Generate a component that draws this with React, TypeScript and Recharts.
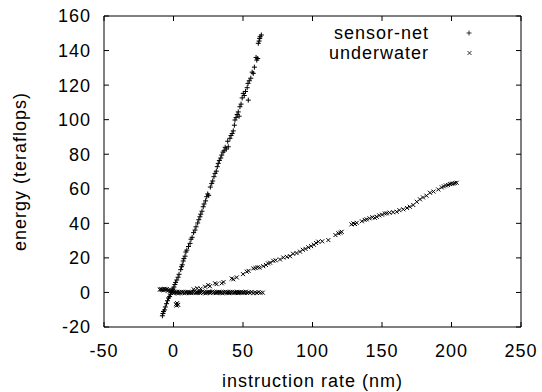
import React from "react";
import {
  ScatterChart,
  Scatter,
  XAxis,
  YAxis,
  Label,
  Legend,
} from "recharts";

const xTicks = [-50, 0, 50, 100, 150, 200, 250];
const yTicks = [-20, 0, 20, 40, 60, 80, 100, 120, 140, 160];

// sensor-net: steep cloud, [x, y]
const sensorNet = [
  [-8.0, -13.5], [-7.6, -12.2], [-7.2, -11.0], [-6.4, -10.1], [-5.9, -8.4],
  [-5.0, -6.5], [-4.3, -4.8], [-3.6, -3.2], [-2.8, -2.4], [-2.2, -1.0],
  [-1.5, 0.2], [-1.0, 1.3], [-0.4, 2.0], [0.3, 3.1], [1.0, 4.6],
  [1.5, 5.8], [2.4, 7.2], [3.3, 8.8], [4.0, 10.5], [5.2, 13.2],
  [5.8, 14.9], [6.3, 16.0], [7.0, 18.2], [7.5, 19.6], [8.3, 21.0],
  [8.9, 23.4], [9.6, 24.5], [10.8, 26.6], [11.9, 28.4], [12.6, 30.8],
  [13.4, 31.9], [14.5, 34.6], [15.5, 36.1], [16.2, 38.0], [17.4, 40.2],
  [18.2, 42.1], [19.0, 43.8], [19.6, 45.3], [20.5, 47.0], [21.4, 49.6],
  [22.0, 51.2], [23.1, 53.0], [23.9, 55.4], [24.6, 57.0], [25.3, 56.2],
  [26.5, 61.0], [27.5, 63.1], [28.2, 64.5], [29.1, 67.0], [29.9, 68.9],
  [30.8, 70.2], [31.5, 72.8], [32.2, 74.7], [33.0, 76.4], [34.0, 77.8],
  [34.7, 79.5], [35.6, 81.2], [36.4, 82.0], [37.2, 84.0], [38.0, 83.0],
  [39.4, 84.3], [39.0, 87.5], [40.6, 89.2], [41.4, 90.8], [42.2, 92.0],
  [43.0, 93.5], [43.8, 96.8], [44.2, 99.8], [45.0, 101.2], [45.8, 103.0],
  [46.6, 104.5], [47.2, 102.0], [47.8, 107.5], [48.6, 109.0], [49.4, 112.6],
  [50.2, 115.2], [50.9, 114.0], [51.8, 116.3], [53.0, 118.5], [53.8, 111.3],
  [53.6, 121.0], [54.5, 122.5], [55.6, 124.0], [57.4, 126.8], [56.6, 127.5],
  [58.2, 130.4], [59.9, 134.5], [60.6, 135.4], [59.4, 136.0], [61.0, 144.2],
  [61.6, 145.5], [62.3, 148.0], [63.2, 149.0], [62.0, 147.0],
];

// underwater: flat band near zero
const underwaterBand = [
  [-9.8, 1.6], [-9.2, 2.0], [-8.5, 1.4], [-7.8, 1.9], [-7.0, 1.2], [-6.4, 2.1],
  [-5.6, 1.5], [-4.8, 2.0], [-4.0, 1.0], [-3.3, 1.6], [-2.5, 0.6], [-1.8, 1.2],
  [-1.0, 0.0], [-0.4, 0.8], [0.3, -0.4], [1.0, 0.5], [1.8, -0.2], [2.6, 0.3],
  [3.3, -0.6], [4.1, 0.2], [4.9, -0.3], [5.7, 0.4], [6.4, -0.1], [7.2, 0.3],
  [8.0, -0.5], [8.8, 0.2], [9.6, -0.2], [10.4, 0.4], [11.2, -0.3], [12.0, 0.1],
  [12.8, -0.4], [13.6, 0.3], [14.4, -0.1], [15.2, 0.5], [16.0, -0.3], [16.8, 0.2],
  [17.6, -0.2], [18.4, 0.4], [19.2, -0.4], [20.0, 0.1], [20.8, 0.6], [21.6, -0.2],
  [22.4, 0.3], [23.2, -0.5], [24.0, 0.2], [24.8, -0.1], [25.6, 0.4], [26.4, -0.3],
  [27.2, 0.1], [28.0, 0.5], [28.8, -0.2], [29.6, 0.3], [30.4, -0.4], [31.2, 0.2],
  [32.0, -0.1], [32.8, 0.4], [33.6, -0.3], [34.4, 0.1], [35.2, -0.5], [36.0, 0.3],
  [36.8, -0.1], [37.6, 0.4], [38.4, -0.2], [39.2, 0.2], [40.0, -0.4], [40.8, 0.3],
  [41.6, -0.1], [42.4, 0.4], [43.2, -0.3], [44.0, 0.1], [44.8, -0.2], [45.6, 0.3],
  [46.4, -0.4], [47.2, 0.2], [48.0, -0.1], [48.8, 0.3], [49.6, -0.3], [50.4, 0.1],
  [51.2, -0.2], [52.0, 0.4], [53.0, -0.3], [54.0, 0.1], [55.0, -0.2], [56.2, 0.3],
  [57.4, -0.4], [58.6, 0.0], [60.0, -0.3], [61.2, 0.2], [62.6, -0.2], [64.2, -0.1],
  [1.8, -6.8], [2.6, -6.2], [3.4, -7.2], [2.2, -7.6],
];

// underwater: rising arm
const underwaterRise = [
  [14.5, 1.8], [17.0, 2.4], [19.5, 2.2], [22.7, 3.3], [25.0, 4.3], [26.2, 3.6],
  [29.9, 5.3], [31.0, 4.8], [34.7, 5.3], [36.0, 6.0], [41.9, 8.1], [43.0, 7.6],
  [45.5, 8.7], [50.0, 10.6], [52.7, 12.0], [54.0, 12.5], [57.4, 13.9], [59.0, 14.1],
  [60.5, 14.6], [62.0, 14.4], [64.6, 15.2], [66.5, 15.9], [68.0, 16.8], [69.5, 17.2],
  [71.8, 18.3], [73.5, 18.6], [76.6, 19.1], [79.0, 20.2], [81.5, 20.6], [83.8, 21.0],
  [86.0, 22.4], [88.5, 22.8], [91.0, 23.6], [93.0, 24.7], [95.0, 25.2], [97.0, 26.1],
  [99.0, 26.8], [101.0, 27.6], [102.6, 28.6], [104.2, 29.4], [107.0, 29.6], [111.4, 30.3],
  [116.5, 33.2], [118.6, 34.2], [120.0, 34.6], [121.0, 35.1], [128.0, 39.4], [129.4, 40.0],
  [130.6, 39.6], [131.8, 40.3], [135.5, 41.2], [137.5, 42.0], [139.0, 42.3], [141.0, 42.9],
  [143.0, 43.5], [144.8, 43.2], [146.2, 43.8], [148.0, 44.6], [150.0, 45.0], [152.0, 45.7],
  [153.4, 45.8], [155.5, 46.2], [158.0, 46.4], [160.6, 46.7], [162.5, 47.6], [165.3, 48.1],
  [168.0, 48.9], [170.0, 49.6], [172.5, 50.6], [175.0, 52.5], [177.3, 53.9], [179.5, 55.0],
  [182.0, 56.0], [184.5, 57.7], [187.0, 58.4], [190.5, 59.6], [193.0, 60.8], [194.5, 61.4],
  [196.0, 61.9], [197.5, 62.2], [198.9, 62.7], [200.0, 62.9], [201.2, 63.0], [202.4, 63.3],
  [203.7, 63.5],
];

const toPoints = (arr: number[][]) => arr.map(([x, y]) => ({ x, y }));
const sensorData = toPoints(sensorNet);
const underwaterData = toPoints([...underwaterBand, ...underwaterRise]);

const font = "'Liberation Sans', Arial, sans-serif";
const ink = "#000";

const Plus = (props: any) => {
  const { cx, cy } = props;
  if (cx == null || cy == null) return null;
  const r = 2.5;
  return (
    <path
      d={`M${cx - r},${cy}H${cx + r}M${cx},${cy - r}V${cy + r}`}
      stroke={ink}
      strokeWidth={1}
      fill="none"
    />
  );
};

const Cross = (props: any) => {
  const { cx, cy } = props;
  if (cx == null || cy == null) return null;
  const r = 2;
  return (
    <path
      d={`M${cx - r},${cy - r}L${cx + r},${cy + r}M${cx - r},${cy + r}L${cx + r},${cy - r}`}
      stroke={ink}
      strokeWidth={1}
      fill="none"
    />
  );
};

const renderLegend = (props: any) => {
  const items = props.payload || [];
  return (
    <svg width={542} height={392} style={{ pointerEvents: "none" }}>
      {items.map((it: any, i: number) => {
        const y = 33 + i * 20;
        return (
          <g key={it.value}>
            <text
              x={429}
              y={y + 6}
              textAnchor="end"
              fontFamily={font}
              fontSize={18}
              letterSpacing={1}
              fill={ink}
            >
              {it.value}
            </text>
            {i === 0 ? (
              <path
                d={`M${466.5},${y}H${471.5}M${469},${y - 2.5}V${y + 2.5}`}
                stroke={ink}
                strokeWidth={0.8}
                fill="none"
              />
            ) : (
              <path
                d={`M${467.5},${y - 2}L${471.5},${y + 2}M${467.5},${y + 2}L${471.5},${y - 2}`}
                stroke={ink}
                strokeWidth={0.8}
                fill="none"
              />
            )}
          </g>
        );
      })}
    </svg>
  );
};

const XTitle = (props: any) => {
  const vb = props.viewBox;
  return (
    <text
      x={vb.x + vb.width / 2}
      y={vb.y + vb.height - 5}
      textAnchor="middle"
      fontFamily={font}
      fontSize={18}
      letterSpacing={1}
      fill={ink}
    >
      instruction rate (nm)
    </text>
  );
};

const YTitle = (props: any) => {
  const vb = props.viewBox;
  const cx = 26;
  const cy = vb.y + vb.height / 2;
  return (
    <text
      x={cx}
      y={cy}
      transform={`rotate(-90 ${cx} ${cy})`}
      textAnchor="middle"
      fontFamily={font}
      fontSize={18}
      letterSpacing={1}
      fill={ink}
    >
      energy (teraflops)
    </text>
  );
};

const tickStyle = { fontFamily: font, fontSize: 18, fill: ink, letterSpacing: 1 };

export default function App() {
  return (
    <div style={{ position: "absolute", left: 0, top: 0, background: "#fff" }}>
      <ScatterChart
        width={542}
        height={392}
        margin={{ top: 15, right: 20, bottom: 0, left: 0 }}
      >
        <XAxis
          xAxisId="b"
          dataKey="x"
          type="number"
          domain={[-50, 250]}
          ticks={xTicks}
          height={65}
          tickSize={-5}
          tickMargin={22}
          tick={tickStyle}
          axisLine={{ stroke: ink }}
          tickLine={{ stroke: ink }}
          allowDataOverflow
        >
          <Label content={XTitle} />
        </XAxis>
        <XAxis
          xAxisId="t"
          orientation="top"
          dataKey="x"
          type="number"
          domain={[-50, 250]}
          ticks={xTicks}
          height={1}
          tickSize={-5}
          tick={() => <g />}
          axisLine={{ stroke: ink }}
          tickLine={{ stroke: ink }}
          allowDataOverflow
        />
        <YAxis
          yAxisId="l"
          dataKey="y"
          type="number"
          domain={[-20, 160]}
          ticks={yTicks}
          width={104}
          tickSize={-5}
          tickMargin={18}
          tick={tickStyle}
          axisLine={{ stroke: ink }}
          tickLine={{ stroke: ink }}
          allowDataOverflow
        >
          <Label content={YTitle} />
        </YAxis>
        <YAxis
          yAxisId="r"
          orientation="right"
          dataKey="y"
          type="number"
          domain={[-20, 160]}
          ticks={yTicks}
          width={1}
          tickSize={-5}
          tick={() => <g />}
          axisLine={{ stroke: ink }}
          tickLine={{ stroke: ink }}
          allowDataOverflow
        />
        <Legend
          layout="vertical"
          align="center"
          verticalAlign="middle"
          content={renderLegend}
          wrapperStyle={{ position: "absolute", left: 0, top: 0, width: 542, height: 392 }}
        />
        <Scatter
          name="sensor-net"
          data={sensorData}
          xAxisId="b"
          yAxisId="l"
          shape={Plus}
          isAnimationActive={false}
        />
        <Scatter
          name="underwater"
          data={underwaterData}
          xAxisId="t"
          yAxisId="r"
          shape={Cross}
          isAnimationActive={false}
        />
      </ScatterChart>
    </div>
  );
}
